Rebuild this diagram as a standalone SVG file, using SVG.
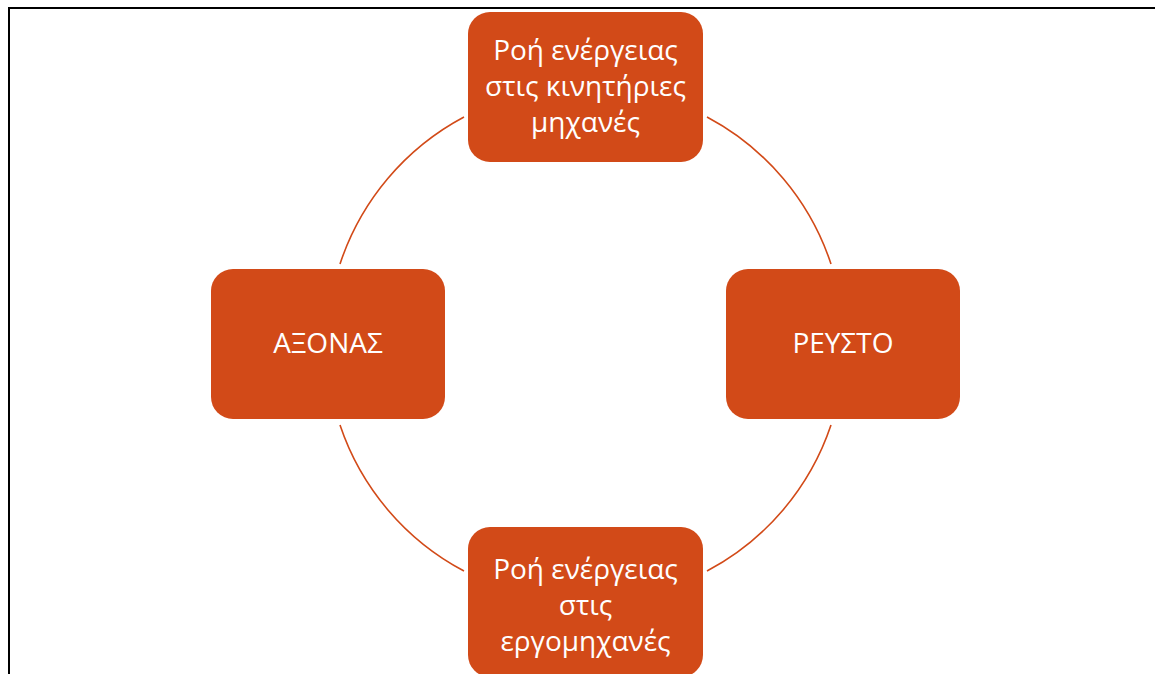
<svg xmlns="http://www.w3.org/2000/svg" width="1155" height="674" viewBox="0 0 1155 674">
<style>
.box{fill:#D24A18;}
.t{fill:#ffffff;font-family:"Open Sans","Liberation Sans",sans-serif;font-size:28px;text-anchor:middle;}
.arc{fill:none;stroke:#D24A18;stroke-width:1.6;}
</style>
<rect width="1155" height="674" fill="#ffffff"/>
<path d="M9,674 V8 H1155" fill="none" stroke="#000" stroke-width="2"/>
<g id="connectors">
<path class="arc" d="M464,117 A258,258 0 0 0 340,264"/>
<path class="arc" d="M707,117 A258,258 0 0 1 831,264"/>
<path class="arc" d="M831,425 A258,258 0 0 1 707,571"/>
<path class="arc" d="M340,425 A258,258 0 0 0 464,571"/>
</g>
<g id="node-top">
<rect class="box" x="468" y="12" width="235" height="150" rx="22"/>
<text class="t" x="585.5" y="60">Ροή ενέργειας</text>
<text class="t" x="585.5" y="96">στις κινητήριες</text>
<text class="t" x="585.5" y="132">μηχανές</text>
</g>
<g id="node-left">
<rect class="box" x="211" y="269" width="234" height="150" rx="22"/>
<text class="t" x="328" y="353">ΑΞΟΝΑΣ</text>
</g>
<g id="node-right">
<rect class="box" x="726" y="269" width="234" height="150" rx="22"/>
<text class="t" x="843" y="353">ΡΕΥΣΤΟ</text>
</g>
<g id="node-bottom">
<rect class="box" x="468" y="527" width="235" height="150" rx="22"/>
<text class="t" x="585.5" y="579">Ροή ενέργειας</text>
<text class="t" x="585.5" y="615">στις</text>
<text class="t" x="585.5" y="651">εργομηχανές</text>
</g>
</svg>
